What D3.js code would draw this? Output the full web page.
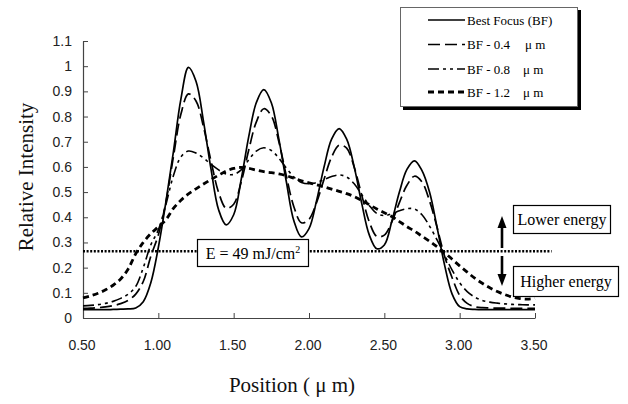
<!DOCTYPE html>
<html><head><meta charset="utf-8">
<script src="https://cdn.jsdelivr.net/npm/d3@7/dist/d3.min.js"></script>
<style>body{margin:0;background:#fff}svg{display:block}</style>
</head><body><svg id="c" width="628" height="404"></svg>
<script>
// ---- data ----
const positions = [0.50,0.55,0.60,0.65,0.70,0.75,0.80,0.85,0.90,0.95,1.00,1.05,1.10,1.15,1.20,1.25,1.30,1.35,1.40,1.45,1.50,1.55,1.60,1.65,1.70,1.75,1.80,1.85,1.90,1.95,2.00,2.05,2.10,2.15,2.20,2.25,2.30,2.35,2.40,2.45,2.50,2.55,2.60,2.65,2.70,2.75,2.80,2.85,2.90,2.95,3.00,3.05,3.10,3.15,3.20,3.25,3.30,3.35,3.40,3.45,3.50];
const bestFocus = [0.033,0.033,0.033,0.033,0.034,0.035,0.036,0.040,0.065,0.140,0.280,0.460,0.660,0.870,0.995,0.940,0.780,0.590,0.430,0.370,0.410,0.550,0.720,0.855,0.907,0.855,0.710,0.540,0.385,0.322,0.355,0.465,0.600,0.710,0.752,0.710,0.600,0.455,0.330,0.275,0.290,0.385,0.500,0.590,0.624,0.585,0.500,0.360,0.210,0.095,0.045,0.036,0.034,0.033,0.033,0.033,0.033,0.033,0.033,0.033,0.033];
const bfMinus04 = [0.038,0.039,0.041,0.044,0.049,0.057,0.070,0.095,0.145,0.245,0.330,0.460,0.640,0.810,0.890,0.862,0.758,0.622,0.499,0.436,0.452,0.540,0.667,0.778,0.831,0.803,0.700,0.563,0.441,0.378,0.392,0.458,0.551,0.639,0.686,0.675,0.599,0.488,0.382,0.324,0.329,0.382,0.458,0.527,0.563,0.540,0.465,0.360,0.245,0.160,0.090,0.058,0.045,0.041,0.040,0.039,0.039,0.038,0.038,0.038,0.038];
const bfMinus08 = [0.048,0.050,0.053,0.058,0.066,0.078,0.095,0.125,0.200,0.290,0.350,0.450,0.565,0.640,0.663,0.655,0.635,0.610,0.588,0.572,0.570,0.588,0.628,0.663,0.676,0.665,0.635,0.595,0.560,0.538,0.533,0.538,0.550,0.562,0.568,0.560,0.533,0.490,0.447,0.415,0.407,0.414,0.426,0.434,0.433,0.410,0.365,0.310,0.250,0.190,0.140,0.105,0.083,0.070,0.063,0.059,0.056,0.054,0.053,0.052,0.052];
const bfMinus12 = [0.080,0.088,0.098,0.112,0.130,0.155,0.195,0.255,0.300,0.335,0.362,0.390,0.435,0.468,0.493,0.513,0.532,0.550,0.567,0.583,0.594,0.598,0.594,0.587,0.581,0.577,0.572,0.565,0.555,0.545,0.537,0.529,0.521,0.512,0.503,0.494,0.482,0.467,0.450,0.433,0.418,0.403,0.383,0.363,0.345,0.325,0.305,0.283,0.260,0.233,0.207,0.182,0.158,0.138,0.120,0.105,0.093,0.083,0.077,0.075,0.078];
const seriesNames = ["Best Focus (BF)", "BF - 0.4", "BF - 0.8", "BF - 1.2"];
const seriesUnits = ["", "\u03BC m", "\u03BC m", "\u03BC m"];
const xTicks = [0.5,1.0,1.5,2.0,2.5,3.0,3.5];
const yTicks = [0,0.1,0.2,0.3,0.4,0.5,0.6,0.7,0.8,0.9,1.0,1.1];
const energyLevel = 0.265;
const energyEnd = 3.61;
const xTitle = "Position ( \u03BC m)";
const yTitle = "Relative Intensity";

// ---- styles ----
const styles = [
  {dash:null, w:1.7},
  {dash:"12,5", w:1.7},
  {dash:"11,4,3,4,3,4", w:1.6},
  {dash:"6,4", w:2.8}
];
const serif = "'Liberation Serif','Times New Roman',serif";
const sans = "'Liberation Sans',Arial,sans-serif";

const svg = d3.select("#c");
const x = d3.scaleLinear().domain([0.5,3.5]).range([83,535]);
const y = d3.scaleLinear().domain([0,1.1]).range([318,41]);

// axes
const yAxis = svg.append("g").attr("transform","translate(83,0)")
  .call(d3.axisLeft(y).tickValues(yTicks).tickSize(-5).tickSizeOuter(0).tickPadding(11)
    .tickFormat(d => d3.format("~g")(d)));
const xAxis = svg.append("g").attr("transform","translate(0,318)")
  .call(d3.axisBottom(x).tickValues(xTicks).tickSize(-5).tickSizeOuter(0).tickPadding(22)
    .tickFormat(d3.format(".2f")));
[yAxis,xAxis].forEach(g=>{
  g.selectAll("path.domain").attr("stroke","#444").attr("stroke-width",1.2);
  g.selectAll(".tick line").attr("stroke","#444").attr("stroke-width",1);
  g.selectAll("text").attr("font-family",sans).attr("font-size",14).attr("fill","#222");
});
xAxis.selectAll("text").attr("dx",-1.5);

// titles
svg.append("text").attr("transform","translate(33,177) rotate(-90)")
  .attr("text-anchor","middle").attr("font-family",serif).attr("font-size",21)
  .attr("fill","#111").text(yTitle);
svg.append("text").attr("x",292).attr("y",392).attr("text-anchor","middle")
  .attr("font-family",serif).attr("font-size",21).attr("fill","#111").text(xTitle);

// energy line
svg.append("line").attr("x1",x(0.5)).attr("x2",x(energyEnd))
  .attr("y1",y(energyLevel)).attr("y2",y(energyLevel))
  .attr("stroke","#000").attr("stroke-width",2.4).attr("stroke-dasharray","2,1.6");

// curves
const all = [bestFocus,bfMinus04,bfMinus08,bfMinus12];
const line = d3.line().x(d=>x(d[0])).y(d=>y(d[1])).curve(d3.curveCatmullRom.alpha(0.5));
all.slice().reverse().forEach((vals,ri)=>{
  const i = all.length-1-ri;
  svg.append("path").datum(positions.map((p,k)=>[p,vals[k]]))
    .attr("d",line).attr("fill","none").attr("stroke","#000")
    .attr("stroke-width",styles[i].w)
    .attr("stroke-dasharray",styles[i].dash)
    .attr("stroke-linejoin","round");
});

// E box
const eg = svg.append("g");
eg.append("rect").attr("x",197.5).attr("y",239.5).attr("width",111).attr("height",27)
  .attr("fill","#fff").attr("stroke","#000").attr("stroke-width",1.2);
const et = eg.append("text").attr("x",253).attr("y",258.5).attr("text-anchor","middle")
  .attr("font-family",serif).attr("font-size",16).attr("fill","#000");
et.append("tspan").text("E = 49 mJ/cm");
et.append("tspan").attr("font-size",10).attr("dy",-6).text("2");

// energy annotation boxes
function box(x0,y0,w,h,label){
  svg.append("rect").attr("x",x0).attr("y",y0).attr("width",w).attr("height",h)
    .attr("fill","#fff").attr("stroke","#000").attr("stroke-width",1.2);
  svg.append("text").attr("x",x0+w/2).attr("y",y0+h/2+5.5).attr("text-anchor","middle")
    .attr("font-family",serif).attr("font-size",16).attr("fill","#000").text(label);
}
box(513.5,205.5,97,28,"Lower energy");
box(513.5,266.5,105,30,"Higher energy");

// arrows
const ax = 502;
svg.append("line").attr("x1",ax).attr("x2",ax).attr("y1",226).attr("y2",248)
  .attr("stroke","#000").attr("stroke-width",2.6);
svg.append("path").attr("d",`M${ax},216 L${ax-4.5},228 L${ax+4.5},228 Z`).attr("fill","#000");
svg.append("line").attr("x1",ax).attr("x2",ax).attr("y1",256).attr("y2",276)
  .attr("stroke","#000").attr("stroke-width",2.6);
svg.append("path").attr("d",`M${ax},286 L${ax-4.5},274 L${ax+4.5},274 Z`).attr("fill","#000");

// legend
const lg = svg.append("g");
lg.append("rect").attr("x",403).attr("y",10).attr("width",178).attr("height",100).attr("fill","#000");
lg.append("rect").attr("x",400.5).attr("y",7.5).attr("width",177).attr("height",99)
  .attr("fill","#fff").attr("stroke","#666").attr("stroke-width",1);
const rows = [20,44.5,69,92];
seriesNames.forEach((n,i)=>{
  lg.append("line").attr("x1",428).attr("x2",465).attr("y1",rows[i]).attr("y2",rows[i])
    .attr("stroke","#000").attr("stroke-width",styles[i].w)
    .attr("stroke-dasharray",styles[i].dash);
  lg.append("text").attr("x",467).attr("y",rows[i]+4.5).attr("font-family",serif)
    .attr("font-size",13).attr("fill","#000").text(n);
  if(seriesUnits[i]) lg.append("text").attr("x",i===1?525:523).attr("y",rows[i]+4.5)
    .attr("font-family",serif).attr("font-size",13).attr("fill","#000").text(seriesUnits[i]);
});
</script></body></html>
